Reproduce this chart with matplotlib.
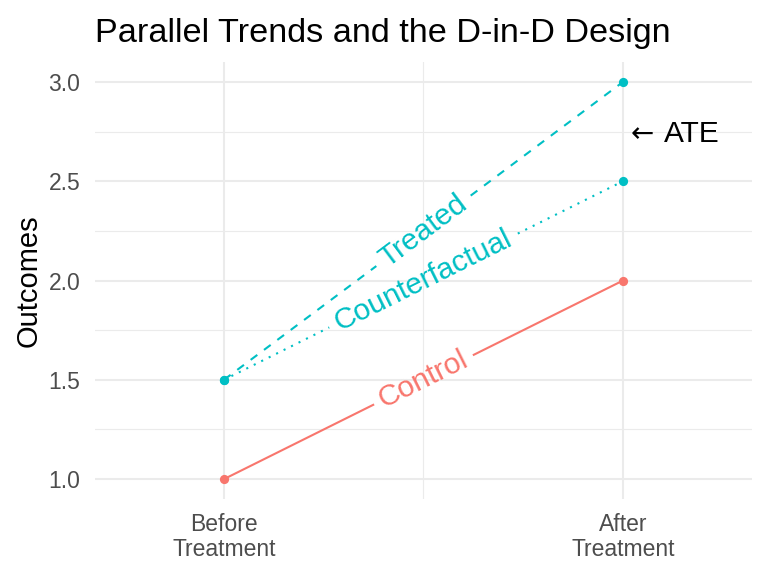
import math

import matplotlib

matplotlib.use("Agg")
import matplotlib.pyplot as plt  # noqa: E402

# ---------------------------------------------------------------------------
# Data
# ---------------------------------------------------------------------------
periods = [1, 2]
period_labels = ["Before\nTreatment", "After\nTreatment"]
control = [1.0, 2.0]
treated = [1.5, 3.0]
counterfactual = [1.5, 2.5]
ate_pos = (2.02, 2.75)

_COLOR_CONTROL = "#F8766D"
_COLOR_TREATED = "#00BFC4"
_GRID = "#EBEBEB"
_TICK = "#4D4D4D"

plt.rcParams["font.family"] = ["Liberation Sans", "DejaVu Sans"]

fig = plt.figure(figsize=(7.68, 5.76), dpi=100)
ax = fig.add_axes([95 / 768, 1 - 499 / 576, (752 - 95) / 768, (499 - 62) / 576])

ax.set_xlim(0.677, 2.323)
ax.set_ylim(0.9, 3.1)

# theme_minimal look
for side in ax.spines.values():
    side.set_visible(False)
ax.set_xticks(periods)
ax.set_xticklabels(period_labels, linespacing=1.07)
ax.set_yticks([1.0, 1.5, 2.0, 2.5, 3.0])
ax.set_yticklabels(["1.0", "1.5", "2.0", "2.5", "3.0"])
ax.set_xticks([1.5], minor=True)
ax.set_yticks([1.25, 1.75, 2.25, 2.75], minor=True)
ax.tick_params(which="both", length=0)
ax.tick_params(axis="x", pad=10.4, labelsize=16.5, labelcolor=_TICK)
ax.tick_params(axis="y", pad=10.5, labelsize=16.5, labelcolor=_TICK)
ax.grid(which="major", color=_GRID, linewidth=1.5)
ax.grid(which="minor", color=_GRID, linewidth=0.8)
ax.set_axisbelow(True)

ax.set_ylabel("Outcomes", fontsize=21, labelpad=4.3)
ax.set_title("Parallel Trends and the D-in-D Design", loc="left",
             fontsize=24.7, pad=14.5)

series = [
    ("Control", control, _COLOR_CONTROL, "-"),
    ("Treated", treated, _COLOR_TREATED, (0, (4, 4))),
    ("Counterfactual", counterfactual, _COLOR_TREATED, (0, (1, 3))),
]

renderer = fig.canvas.get_renderer()
label_size = 21.5
pad_px = 8

for name, values, color, style in series:
    x0, x1 = periods
    y0, y1 = values
    # length of the segment on screen, to leave a gap for the label
    p0 = ax.transData.transform((x0, y0))
    p1 = ax.transData.transform((x1, y1))
    length_px = math.hypot(*(p1 - p0))
    probe = ax.text(0, 0, name, fontsize=label_size)
    width_px = probe.get_window_extent(renderer).width
    probe.remove()
    half_gap = (width_px / 2 + pad_px) / length_px
    t_a, t_b = 0.5 - half_gap, 0.5 + half_gap
    ax.plot([x0, x0 + t_a * (x1 - x0)], [y0, y0 + t_a * (y1 - y0)],
            color=color, linestyle=style, linewidth=1.5, zorder=2)
    ax.plot([x0 + t_b * (x1 - x0), x1], [y0 + t_b * (y1 - y0), y1],
            color=color, linestyle=style, linewidth=1.5, zorder=2)
    ax.scatter(periods, values, color=color, s=44, zorder=3, linewidths=0)
    angle = math.degrees(math.atan2(y1 - y0, x1 - x0))
    ax.text((x0 + x1) / 2, (y0 + y1) / 2, name, color=color,
            fontsize=label_size, ha="center", va="center",
            rotation=angle, rotation_mode="anchor",
            transform_rotates_text=True)

# arrow glyph from DejaVu (longer than the Liberation one), then the label
ax.annotate("\u2190", xy=ate_pos, xytext=(0, -1.5), textcoords="offset points",
            fontsize=20, ha="left", va="center", color="black",
            family="DejaVu Sans")
ax.annotate("ATE", xy=ate_pos, xytext=(23.8, -1.5), textcoords="offset points",
            fontsize=21.5, ha="left", va="center", color="black")

fig.savefig("out.png", dpi=100)
